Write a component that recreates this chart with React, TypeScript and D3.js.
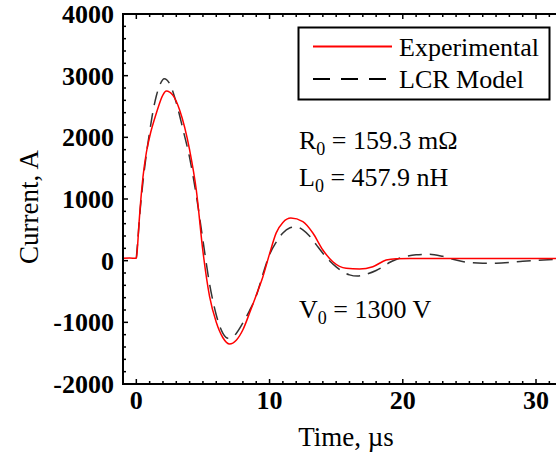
import * as d3 from 'd3';

// Experimental current trace (time in µs, current in A)
const expTime = [-1, -0.5, 0, 0.08, 0.2, 0.5, 0.75, 1.0, 1.5, 2.0, 2.25, 2.75, 3.25, 4.0, 4.5, 5.0, 5.5, 6.0, 6.5, 7.0, 7.5, 8.0, 8.5, 9.0, 9.5, 10.0, 10.5, 11.0, 11.6, 12.5, 13.25, 14.0, 14.75, 15.75, 16.75, 17.75, 18.75, 19.5, 21, 24, 27, 31.5];
const expCurrent = [40, 42, 40, 200, 600, 1360, 1750, 2010, 2390, 2690, 2750, 2680, 2443, 1795, 1150, 150, -584, -1000, -1250, -1351, -1290, -1120, -849, -560, -260, 110, 450, 620, 690, 632, 448, 173, -17, -124, -135, -98, 10, 32, 35, 35, 35, 35];

// LCR model fit
const lcrTime = [0, 0.1, 0.3, 0.5, 0.75, 1.0, 1.25, 1.5, 1.75, 2.1, 2.5, 3.0, 3.5, 4.0, 4.5, 5.0, 5.5, 6.0, 6.5, 6.9, 7.5, 8.0, 8.5, 9.0, 9.5, 10.0, 10.5, 11.0, 11.5, 12.0, 12.5, 13.0, 13.5, 14.0, 14.5, 15.0, 15.5, 16.0, 16.6, 17.3, 18.0, 18.5, 19.0, 19.5, 20.0, 21.0, 22.0, 23.0, 24.0, 25.0, 26.0, 27.0, 28.0, 29.0, 30.0, 31.5];
const lcrCurrent = [40, 300, 850, 1280, 1720, 2090, 2420, 2670, 2840, 2950, 2870, 2560, 2130, 1670, 1060, 330, -380, -880, -1180, -1260, -1180, -1010, -810, -570, -220, 100, 300, 450, 530, 550, 500, 400, 260, 120, 0, -100, -180, -230, -250, -216, -160, -100, -30, 20, 55, 95, 105, 70, 10, -30, -40, -40, -30, -10, 5, 20];

const yTicks = [-2000, -1000, 0, 1000, 2000, 3000, 4000];
const xTicks = [0, 10, 20, 30];

const W = 556;
const H = 453;
const margin = { left: 123, top: 14, right: 0, bottom: 69 };
const font = '"Liberation Serif", "Times New Roman", serif';

export default function App() {
  const x = d3.scaleLinear().domain([-1, 31.5]).range([margin.left, W - margin.right]);
  const y = d3.scaleLinear().domain([-2000, 4000]).range([H - margin.bottom, margin.top]);
  const x0 = margin.left;
  const x1 = W - margin.right;
  const y0 = H - margin.bottom;
  const y1 = margin.top;

  const line = d3
    .line<[number, number]>()
    .x((d) => x(d[0]))
    .y((d) => y(d[1]))
    .curve(d3.curveMonotoneX);

  const expPath = line(expTime.map((t, i) => [t, expCurrent[i]])) || '';
  const lcrPath = line(lcrTime.map((t, i) => [t, lcrCurrent[i]])) || '';

  const xMinor = d3.range(-1, 32, 1).filter((v) => !xTicks.includes(v));
  const yMinor = d3.range(-2000, 4001, 200).filter((v) => !yTicks.includes(v));

  return (
    <svg
      width={W}
      height={H}
      style={{ position: 'absolute', left: 0, top: 0, background: '#fff' }}
      fontFamily={font}
    >
      <defs>
        <clipPath id="plot">
          <rect x={x0} y={y1} width={x1 - x0} height={y0 - y1} />
        </clipPath>
      </defs>

      {/* curves */}
      <g clipPath="url(#plot)">
        <path d={lcrPath} fill="none" stroke="#333" strokeWidth={1.5} strokeDasharray="14,8" />
        <path d={expPath} fill="none" stroke="#ff0000" strokeWidth={1.5} />
      </g>

      {/* axes */}
      <g stroke="#000" strokeWidth={1.5}>
        {xMinor.map((v) => (
          <g key={'xm' + v}>
            <line x1={x(v)} x2={x(v)} y1={y0} y2={y0 - 3} />
            <line x1={x(v)} x2={x(v)} y1={y1} y2={y1 + 3} />
          </g>
        ))}
        {xTicks.map((v) => (
          <g key={'xt' + v}>
            <line x1={x(v)} x2={x(v)} y1={y0} y2={y0 - 5} />
            <line x1={x(v)} x2={x(v)} y1={y1} y2={y1 + 5} />
          </g>
        ))}
        {yMinor.map((v) => (
          <line key={'ym' + v} x1={x0} x2={x0 + 3} y1={y(v)} y2={y(v)} />
        ))}
        {yTicks.map((v) => (
          <line key={'yt' + v} x1={x0} x2={x0 + 5} y1={y(v)} y2={y(v)} />
        ))}
      </g>
      <path
        d={`M${x1},${y1}H${x0}V${y0}H${x1}`}
        fill="none"
        stroke="#000"
        strokeWidth={2}
      />

      {/* tick labels */}
      <g fontSize={26} fontWeight="bold" fill="#000">
        {yTicks.map((v) => (
          <text key={'yl' + v} x={x0 - 9} y={y(v) + 9} textAnchor="end">
            {v}
          </text>
        ))}
        {xTicks.map((v) => (
          <text key={'xl' + v} x={x(v)} y={y0 + 25} textAnchor="middle">
            {v}
          </text>
        ))}
      </g>

      {/* axis titles */}
      <text x={346} y={446} textAnchor="middle" fontSize={27} fill="#000">
        Time, µs
      </text>
      <text
        transform={`translate(38,207) rotate(-90)`}
        textAnchor="middle"
        fontSize={27}
        fill="#000"
      >
        Current, A
      </text>

      {/* legend */}
      <rect x={298.5} y={27.5} width={251} height={72} fill="#fff" stroke="#000" strokeWidth={2} />
      <line x1={313} x2={392} y1={46.5} y2={46.5} stroke="#ff0000" strokeWidth={2} />
      <line x1={313} x2={392} y1={79} y2={79} stroke="#000" strokeWidth={2} strokeDasharray="17,11" />
      <text x={399} y={56} fontSize={26} fill="#000">Experimental</text>
      <text x={399} y={88} fontSize={26} fill="#000">LCR Model</text>

      {/* annotations */}
      <g fontSize={26} fill="#000">
        <text x={299} y={149}>
          R<tspan fontSize={18} dy={6}>0</tspan>
          <tspan dy={-6}> = 159.3 mΩ</tspan>
        </text>
        <text x={299} y={186}>
          L<tspan fontSize={18} dy={6}>0</tspan>
          <tspan dy={-6}> = 457.9 nH</tspan>
        </text>
        <text x={299} y={318}>
          V<tspan fontSize={18} dy={6}>0</tspan>
          <tspan dy={-6}> = 1300 V</tspan>
        </text>
      </g>
    </svg>
  );
}
